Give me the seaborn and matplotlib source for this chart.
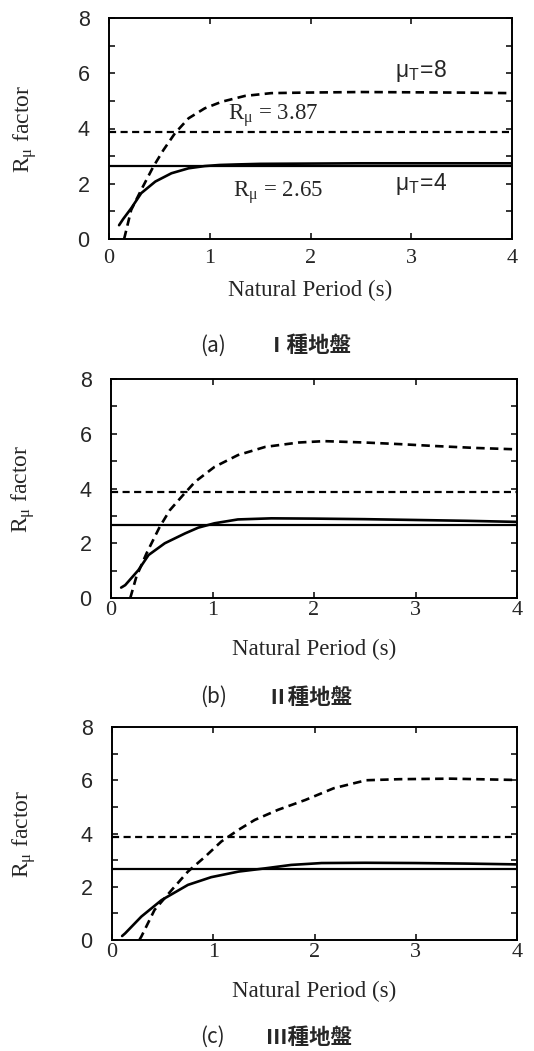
import numpy as np
import pandas as pd
import matplotlib
matplotlib.use("Agg")
import matplotlib.pyplot as plt
import seaborn as sns

# ---- data: strength-reduction factor R_mu vs natural period ----
# Type I ground
t_a4 = [0.10, 0.14, 0.22, 0.32, 0.46, 0.62, 0.79, 0.95, 1.10, 1.28, 1.5, 2.0, 2.5, 3.0, 3.5, 4.0]
r_a4 = [0.50, 0.72, 1.11, 1.66, 2.08, 2.38, 2.56, 2.64, 2.68, 2.70, 2.72, 2.73, 2.74, 2.74, 2.74, 2.74]
t_a8 = [0.15, 0.22, 0.32, 0.44, 0.54, 0.655, 0.79, 0.95, 1.12, 1.35, 1.61, 1.94, 2.5, 3.0, 3.5, 4.0]
r_a8 = [0.00, 1.05, 1.78, 2.62, 3.22, 3.83, 4.37, 4.73, 4.97, 5.18, 5.28, 5.30, 5.32, 5.31, 5.30, 5.28]

# Type II ground
t_b4 = [0.10, 0.14, 0.27, 0.37, 0.53, 0.73, 0.86, 1.02, 1.25, 1.58, 2.0, 2.5, 3.0, 3.5, 4.0]
r_b4 = [0.38, 0.47, 1.02, 1.57, 2.00, 2.36, 2.57, 2.73, 2.87, 2.91, 2.90, 2.88, 2.85, 2.82, 2.78]
t_b8 = [0.19, 0.25, 0.35, 0.48, 0.58, 0.71, 0.83, 1.02, 1.25, 1.52, 1.85, 2.1, 2.5, 2.85, 3.2, 3.6, 4.0]
r_b8 = [0.00, 0.78, 1.63, 2.60, 3.21, 3.76, 4.25, 4.79, 5.22, 5.52, 5.68, 5.73, 5.68, 5.62, 5.55, 5.48, 5.43]

# Type III ground
t_c4 = [0.10, 0.13, 0.29, 0.49, 0.75, 0.98, 1.25, 1.51, 1.77, 2.07, 2.5, 3.0, 3.5, 4.0]
r_c4 = [0.15, 0.25, 0.88, 1.50, 2.07, 2.36, 2.57, 2.69, 2.82, 2.89, 2.90, 2.89, 2.87, 2.84]
t_c8 = [0.27, 0.29, 0.42, 0.59, 0.75, 0.92, 1.08, 1.25, 1.41, 1.64, 1.91, 2.19, 2.51, 2.84, 3.34, 4.0]
r_c8 = [0.00, 0.13, 1.13, 1.88, 2.57, 3.13, 3.70, 4.14, 4.51, 4.89, 5.26, 5.70, 6.00, 6.04, 6.06, 6.01]

# design levels
r_mu4 = 2.65
r_mu8 = 3.87

captions = [("(a)", "Ⅰ種地盤"), ("(b)", "Ⅱ種地盤"), ("(c)", "Ⅲ種地盤")]
x_ticks = [0, 1, 2, 3, 4]
y_ticks = [0, 2, 4, 6, 8]

panels = [
    (t_a4, r_a4, t_a8, r_a8),
    (t_b4, r_b4, t_b8, r_b8),
    (t_c4, r_c4, t_c8, r_c8),
]

sns.set_theme(style="ticks")
plt.rcParams["font.family"] = ["Liberation Serif", "Noto Sans CJK TC", "DejaVu Sans"]
plt.rcParams["mathtext.fontset"] = "custom"
plt.rcParams["mathtext.rm"] = "Liberation Serif"
plt.rcParams["mathtext.it"] = "Liberation Serif:italic"
plt.rcParams["mathtext.sf"] = "Liberation Sans"

W, H = 534, 1051
fig = plt.figure(figsize=(W / 100, H / 100), dpi=100)
fig.patch.set_facecolor("white")

# axes boxes in pixels: left, top, right, bottom
boxes = [(109, 18, 512, 239), (111, 379, 517, 598), (112, 727, 517, 940)]
xpads = [7, 2.5, 2]
ylab_x = [-0.208, -0.217, -0.217]
cap_y = [346, 697, 1037]

dash = (0, (3.2, 2.0))
for i, (box, data) in enumerate(zip(boxes, panels)):
    l, t, r, b = box
    ax = fig.add_axes([l / W, 1 - b / H, (r - l) / W, (b - t) / H])
    ax.set_facecolor("white")
    t4, r4, t8, r8 = data
    df4 = pd.DataFrame({"T": t4, "R": r4})
    df8 = pd.DataFrame({"T": t8, "R": r8})
    sns.lineplot(data=df4, x="T", y="R", ax=ax, color="black", lw=1.9,
                 estimator=None, sort=False)
    sns.lineplot(data=df8, x="T", y="R", ax=ax, color="black", lw=1.9,
                 estimator=None, sort=False, linestyle=dash)
    ax.axhline(r_mu4, color="black", lw=1.6)
    ax.axhline(r_mu8, color="black", lw=1.6, linestyle=dash)

    ax.set_xlim(0, 4)
    ax.set_ylim(0, 8)
    ax.set_xticks(x_ticks)
    ax.set_yticks(y_ticks)
    ax.set_yticks([1, 3, 5, 7], minor=True)
    ax.tick_params(axis="both", which="both", direction="in", top=True, right=True,
                   length=4, width=1.1, color="black")
    ax.tick_params(axis="x", labelsize=16, pad=xpads[i])
    ax.tick_params(axis="y", labelsize=15.5, pad=14)
    for lab in ax.get_yticklabels():
        lab.set_family("Liberation Sans")
    for s in ax.spines.values():
        s.set_linewidth(1.4)
        s.set_color("black")

    ax.set_xlabel("Natural Period (s)", fontsize=16.5)
    ax.xaxis.label.set_va("center")
    ax.xaxis.set_label_coords(0.5, -51 / (b - t))
    ax.set_ylabel(r"R$_\mathrm{\mu}$ factor", fontsize=17)
    ax.yaxis.label.set_va("center")
    ax.yaxis.set_label_coords(ylab_x[i], 0.5)

    if i == 0:
        ax.text(2.84, 5.88, r"$\mathsf{\mu_T\!=\!8}$", fontsize=16.5, va="baseline")
        ax.text(1.18, 4.31, r"R$_\mathrm{\mu}$ = 3.87", fontsize=16.5, va="baseline")
        ax.text(1.23, 1.53, r"R$_\mathrm{\mu}$ = 2.65", fontsize=16.5, va="baseline")
        ax.text(2.84, 1.78, r"$\mathsf{\mu_T\!=\!4}$", fontsize=16.5, va="baseline")

    lab, name = captions[i]
    fig.text(200 / W, 1 - cap_y[i] / H, lab, family=["Noto Sans CJK TC"],
             fontsize=15, va="center", ha="left")
    fig.text(266 / W, 1 - cap_y[i] / H, name, family=["Noto Sans CJK TC"],
             fontsize=15.5, va="center", ha="left", fontweight="bold")

fig.savefig("out.png", dpi=100, facecolor="white")
